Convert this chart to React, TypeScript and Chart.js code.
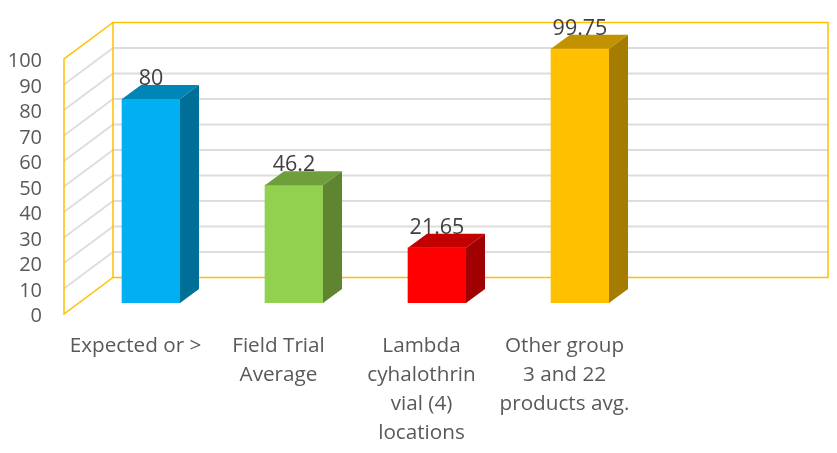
import React, { useEffect, useRef } from "react";
import { Chart, registerables } from "chart.js";

Chart.register(...registerables);

const categories = [["Expected or >"], ["Field Trial", "Average"], ["Lambda", "cyhalothrin", "vial (4)", "locations"], ["Other group", "3 and 22", "products avg."], [""]];
const values = [80, 46.2, 21.65, 99.75, null];
const frontColors = ["#00B0F0", "#92D050", "#FF0000", "#FFC000", "#000000"];
const topColors = ["#0086B6", "#6F9E3D", "#C20000", "#C29200", "#000000"];
const sideColors = ["#006F98", "#5F8530", "#A10000", "#A67C00", "#000000"];

const FONT = "'Open Sans', sans-serif";
const WALL = { dx: 49, dy: -36.5 };
const BAR_SHIFT = { dx: 15.5, dy: -11 };
const BAR_DEPTH = { dx: 19, dy: -14 };

const poly = (ctx: CanvasRenderingContext2D, pts: number[][], fill: string) => {
  ctx.beginPath();
  pts.forEach(([x, y], i) => (i ? ctx.lineTo(x, y) : ctx.moveTo(x, y)));
  ctx.closePath();
  ctx.fillStyle = fill;
  ctx.fill();
};

const bar3d = {
  id: "bar3d",
  beforeDatasetsDraw(chart: any) {
    const { ctx, chartArea: a, scales } = chart;
    const bx = a.left + WALL.dx;
    const br = a.right + WALL.dx;
    ctx.save();
    ctx.lineWidth = 1.8;
    ctx.strokeStyle = "#DDDDDD";
    scales.y.ticks.forEach((t: any) => {
      if (t.value === 0 || t.value === 100) return;
      const y = scales.y.getPixelForValue(t.value);
      ctx.beginPath();
      ctx.moveTo(a.left, y);
      ctx.lineTo(bx, y + WALL.dy);
      ctx.lineTo(br, y + WALL.dy);
      ctx.stroke();
    });
    ctx.strokeStyle = "#FFC000";
    ctx.lineWidth = 1.5;
    ctx.beginPath();
    ctx.moveTo(bx, a.top + WALL.dy);
    ctx.lineTo(a.left, a.top);
    ctx.lineTo(a.left, a.bottom);
    ctx.lineTo(bx, a.bottom + WALL.dy);
    ctx.lineTo(br, a.bottom + WALL.dy);
    ctx.lineTo(br, a.top + WALL.dy);
    ctx.lineTo(bx, a.top + WALL.dy);
    ctx.lineTo(bx, a.bottom + WALL.dy);
    ctx.stroke();
    ctx.restore();
    ctx.save();
    ctx.translate(BAR_SHIFT.dx, BAR_SHIFT.dy);
  },
  afterDatasetsDraw(chart: any) {
    const { ctx } = chart;
    const { dx, dy } = BAR_DEPTH;
    chart.getDatasetMeta(0).data.forEach((el: any, i: number) => {
      if (values[i] == null) return;
      const { x, y, base, width } = el.getProps(["x", "y", "base", "width"], true);
      const l = x - width / 2;
      const r = x + width / 2;
      poly(ctx, [[l, y], [l + dx, y + dy], [r + dx, y + dy], [r, y]], topColors[i]);
      poly(ctx, [[r, y], [r + dx, y + dy], [r + dx, base + dy], [r, base]], sideColors[i]);
      ctx.font = `21.5px ${FONT}`;
      ctx.fillStyle = "#404040";
      ctx.textAlign = "center";
      ctx.textBaseline = "middle";
      ctx.fillText(String(values[i]), x, y - 20);
    });
    ctx.restore();
  },
};

export default function App() {
  const ref = useRef<HTMLCanvasElement>(null);
  useEffect(() => {
    const chart = new Chart(ref.current!, {
      type: "bar",
      data: {
        labels: categories as any,
        datasets: [{ data: values as any, backgroundColor: frontColors, barThickness: 58, borderWidth: 0 }],
      },
      options: {
        responsive: false,
        animation: false,
        layout: { padding: { top: 59, right: 58, left: 0, bottom: 0 } },
        plugins: { legend: { display: false }, tooltip: { enabled: false } },
        scales: {
          x: {
            grid: { display: false },
            border: { display: false },
            afterFit: (s: any) => { s.height = 139; },
            ticks: { color: "#595959", font: { family: FONT, size: 20.7, lineHeight: 1.4 }, maxRotation: 0, autoSkip: false, padding: 10 },
          },
          y: {
            min: 0,
            max: 100,
            grid: { display: false },
            border: { display: false },
            afterFit: (s: any) => { s.width = 64; },
            ticks: { stepSize: 10, autoSkip: false, color: "#595959", font: { family: FONT, size: 20 }, padding: 14, labelOffset: 2.5 },
          },
        },
      },
      plugins: [bar3d],
    });
    return () => chart.destroy();
  }, []);
  return <canvas ref={ref} width={837} height={453} style={{ position: "absolute", left: 0, top: 0, display: "block" }} />;
}
